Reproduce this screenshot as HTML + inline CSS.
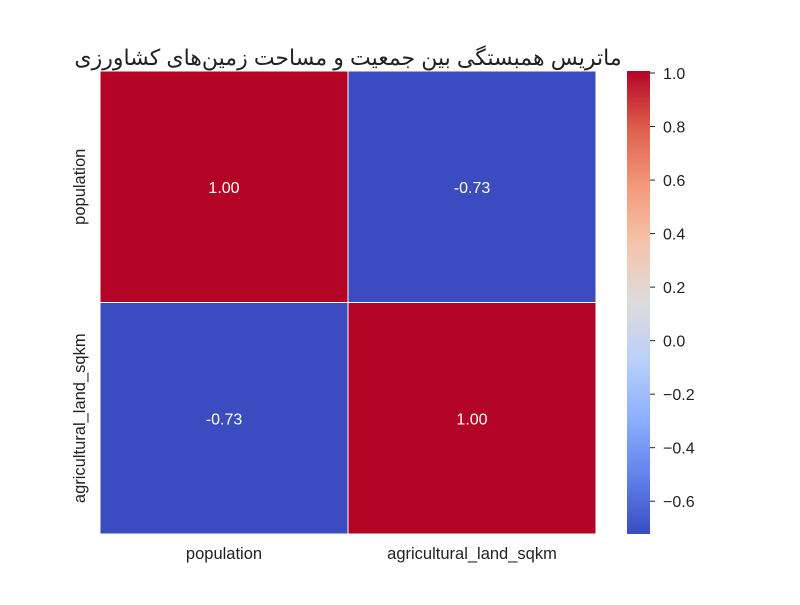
<!DOCTYPE html>
<html><head><meta charset="utf-8"><style>
body{margin:0;background:#fff;}
svg text{font-family:"Liberation Sans","DejaVu Sans",sans-serif;}
</style></head><body>
<svg id="chart" width="800" height="600" xmlns="http://www.w3.org/2000/svg">
<defs>
<linearGradient id="cw" x1="0" y1="1" x2="0" y2="0">
<stop offset="0" stop-color="#3b4cc0"/><stop offset="0.125" stop-color="#6282ea"/>
<stop offset="0.25" stop-color="#8db0fe"/><stop offset="0.375" stop-color="#b9d0f9"/>
<stop offset="0.5" stop-color="#dddcdc"/><stop offset="0.625" stop-color="#f5c4ac"/>
<stop offset="0.75" stop-color="#f49a7b"/><stop offset="0.875" stop-color="#de604d"/>
<stop offset="1" stop-color="#b40426"/>
</linearGradient>
</defs>
<text x="348" y="65" text-anchor="middle" font-size="22" fill="#222" style='font-family:"Liberation Sans","DejaVu Sans","Noto Sans CJK SC",sans-serif'>ماتریس همبستگی بین جمعیت و مساحت زمین‌های کشاورزی</text>
<g id="cells"></g>
<rect x="627" y="71" width="23" height="463" fill="url(#cw)"/>
<g id="cbticks"></g>
</svg>
<script>
const categories = ["population", "agricultural_land_sqkm"];
const values = [[1.00, -0.73], [-0.73, 1.00]];
const cbTicks = [1.0, 0.8, 0.6, 0.4, 0.2, 0.0, -0.2, -0.4, -0.6];
const vmin = -0.73, vmax = 1.0;

const X0 = 100, Y0 = 71, W = 496, H = 463;
const stops = [[0,[59,76,192]],[0.125,[98,130,234]],[0.25,[141,176,254]],[0.375,[185,208,249]],[0.5,[221,220,220]],[0.625,[245,196,172]],[0.75,[244,154,123]],[0.875,[222,96,77]],[1,[180,4,38]]];
function color(v){
  let t=(v-vmin)/(vmax-vmin); t=Math.max(0,Math.min(1,t));
  for(let i=1;i<stops.length;i++){ if(t<=stops[i][0]){const a=stops[i-1],b=stops[i];const f=(t-a[0])/(b[0]-a[0]);
    return 'rgb('+a[1].map((c,k)=>Math.round(c+(b[1][k]-c)*f)).join(',')+')';}}
  return 'rgb(180,4,38)';
}
const NS="http://www.w3.org/2000/svg";
const svg=document.getElementById('chart');
const cells=document.getElementById('cells');
const n=categories.length, cw=W/n, ch=H/n;
function mk(tag,attrs,parent){const e=document.createElementNS(NS,tag);for(const k in attrs)e.setAttribute(k,attrs[k]);parent.appendChild(e);return e;}
for(let r=0;r<n;r++)for(let c=0;c<n;c++){
  const v=values[r][c];
  const rect=mk('rect',{x:X0+c*cw,y:Y0+r*ch,width:cw,height:ch,fill:color(v),stroke:'#fff','stroke-width':1},cells);
  
  
  const t=mk('text',{x:X0+c*cw+cw/2,y:Y0+r*ch+ch/2+6,'text-anchor':'middle','font-size':16,fill:'#fff'},cells);
  t.textContent=v.toFixed(2);
  
  
}
for(let i=0;i<n;i++){
  const tx=mk('text',{x:X0+i*cw+cw/2,y:559,'text-anchor':'middle','font-size':16.5,fill:'#222'},svg);
  tx.textContent=categories[i];
  
  
  const yc=Y0+i*ch+ch/2;
  const ty=mk('text',{x:0,y:0,'text-anchor':'middle','font-size':16.5,fill:'#222',transform:'translate(85,'+yc+') rotate(-90)'},svg);
  ty.textContent=categories[i];
  
  
}
const cbg=document.getElementById('cbticks');
function cy(v){return 534-(v-vmin)/(vmax-vmin)*463;}
cbTicks.forEach(v=>{
  const y=cy(v)+2;
  mk('line',{x1:650,x2:655,y1:y,y2:y,stroke:'#222','stroke-width':1},cbg);
  const t=mk('text',{x:663,y:y+6,'font-size':16,fill:'#222'},cbg);
  t.textContent=v.toFixed(1).replace('-','\u2212');
  
  
});
</script>
</body></html>
